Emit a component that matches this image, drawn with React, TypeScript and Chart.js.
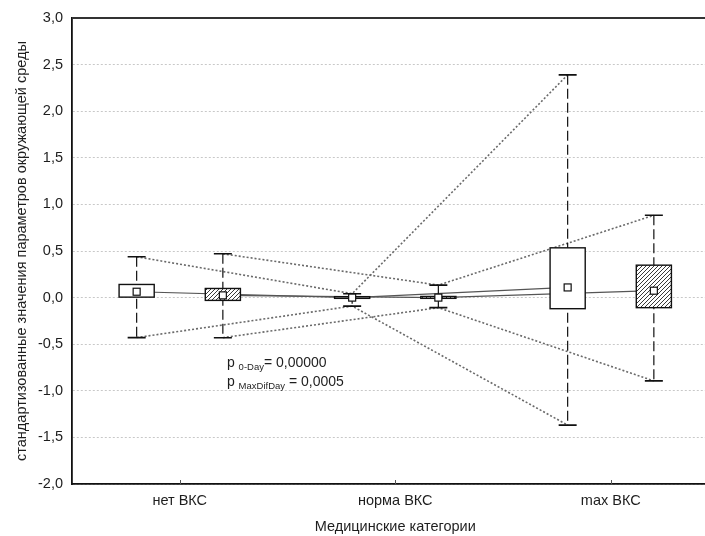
import React, { useEffect, useRef } from "react";
import { Chart, registerables } from "chart.js";

Chart.register(...registerables);

// ---- data ----
const categories = ["нет ВКС", "норма ВКС", "max ВКС"];
const yMin = -2;
const yMax = 3;
const yStep = 0.5;

// Series A (white boxes)
const aMin = [-0.429, -0.091, -1.368];
const aQ1 = [0.005, -0.008, -0.119];
const aQ3 = [0.141, 0.01, 0.534];
const aMax = [0.438, 0.042, 2.39];
const aMean = [0.063, 0.0, 0.109];

// Series B (hatched boxes)
const bMin = [-0.43, -0.108, -0.894];
const bQ1 = [-0.03, -0.008, -0.108];
const bQ3 = [0.098, 0.012, 0.348];
const bMax = [0.47, 0.134, 0.883];
const bMean = [0.024, 0.0, 0.074];

const yTitle = "стандартизованные значения параметров окружающей среды";
const xTitle = "Медицинские категории";
const annotation = [
  { p: "p", sub: "0-Day", rest: "= 0,00000" },
  { p: "p", sub: "MaxDifDay", rest: " = 0,0005" },
];
const annotationAnchor = { x: 0.219, y: -0.69 };

// ---- layout constants ----
const OFFSETS = [-0.2, 0.2];
const BOX_W = 0.163;
const FONT = "'Liberation Sans', Arial, sans-serif";
const TEXT = "#1e1e1e";

function makeHatch(): CanvasPattern | string {
  const n = 4;
  const c = document.createElement("canvas");
  c.width = n;
  c.height = n;
  const g = c.getContext("2d");
  if (!g) return "#fff";
  g.fillStyle = "#fff";
  g.fillRect(0, 0, n, n);
  g.strokeStyle = "#3a3a3a";
  g.lineWidth = 1;
  g.beginPath();
  g.moveTo(-1, n + 1);
  g.lineTo(n + 1, -1);
  g.moveTo(-1, 1);
  g.lineTo(1, -1);
  g.moveTo(n - 1, n + 1);
  g.lineTo(n + 1, n - 1);
  g.stroke();
  const p = g.createPattern(c, "repeat");
  return p || "#fff";
}

export default function App() {
  const ref = useRef<HTMLCanvasElement | null>(null);

  useEffect(() => {
    const canvas = ref.current;
    if (!canvas) return;
    const hatch = makeHatch();

    const series = [
      { min: aMin, q1: aQ1, q3: aQ3, max: aMax, mean: aMean, fill: "#fff" as any },
      { min: bMin, q1: bQ1, q3: bQ3, max: bMax, mean: bMean, fill: hatch as any },
    ];

    const lineDs = (vals: number[], off: number, dotted: boolean) => ({
      type: "line" as const,
      data: categories.map((_, i) => ({ x: i + off, y: vals[i] })),
      borderColor: dotted ? "#6a6a6a" : "#555",
      borderWidth: dotted ? 1.6 : 1.2,
      borderDash: dotted ? [2, 2] : [],
      pointRadius: 0,
      showLine: true,
      fill: false,
      tension: 0,
    });

    const datasets = [
      lineDs(aMax, OFFSETS[0], true),
      lineDs(aMin, OFFSETS[0], true),
      lineDs(bMax, OFFSETS[1], true),
      lineDs(bMin, OFFSETS[1], true),
      lineDs(aMean, OFFSETS[0], false),
      lineDs(bMean, OFFSETS[1], false),
    ];

    const boxPlugin = {
      id: "boxes",
      afterDatasetsDraw(chart: any) {
        const ctx: CanvasRenderingContext2D = chart.ctx;
        const xs = chart.scales.x;
        const ys = chart.scales.y;
        const area = chart.chartArea;
        ctx.save();
        series.forEach((s, si) => {
          categories.forEach((_, i) => {
            const xv = i + OFFSETS[si];
            const cx = xs.getPixelForValue(xv);
            const hw = (xs.getPixelForValue(xv + BOX_W / 2) - xs.getPixelForValue(xv - BOX_W / 2)) / 2;
            const yMaxP = ys.getPixelForValue(s.max[i]);
            const yMinP = ys.getPixelForValue(s.min[i]);
            const yQ1 = ys.getPixelForValue(s.q1[i]);
            const yQ3 = ys.getPixelForValue(s.q3[i]);
            const yMean = ys.getPixelForValue(s.mean[i]);
            // whisker
            ctx.strokeStyle = "#111";
            ctx.lineWidth = 1.2;
            ctx.setLineDash([10, 4]);
            ctx.beginPath();
            ctx.moveTo(cx, yMaxP);
            ctx.lineTo(cx, yMinP);
            ctx.stroke();
            ctx.setLineDash([]);
            // caps
            ctx.lineWidth = 1.6;
            ctx.beginPath();
            ctx.moveTo(cx - 9, yMaxP);
            ctx.lineTo(cx + 9, yMaxP);
            ctx.moveTo(cx - 9, yMinP);
            ctx.lineTo(cx + 9, yMinP);
            ctx.stroke();
            // box
            ctx.fillStyle = s.fill;
            ctx.fillRect(cx - hw, yQ3, hw * 2, yQ1 - yQ3);
            ctx.lineWidth = 1.4;
            ctx.strokeStyle = "#111";
            ctx.strokeRect(cx - hw, yQ3, hw * 2, yQ1 - yQ3);
            // mean marker
            ctx.fillStyle = "#fff";
            ctx.fillRect(cx - 3.5, yMean - 3.5, 7, 7);
            ctx.lineWidth = 1.2;
            ctx.strokeRect(cx - 3.5, yMean - 3.5, 7, 7);
          });
        });
        // top border
        ctx.strokeStyle = "#333";
        ctx.lineWidth = 1.8;
        ctx.beginPath();
        ctx.moveTo(area.left, area.top);
        ctx.lineTo(area.right, area.top);
        ctx.stroke();
        // x tick marks (inside)
        ctx.strokeStyle = "#555";
        ctx.lineWidth = 1;
        categories.forEach((_, i) => {
          const x = Math.round(xs.getPixelForValue(i)) + 0.5;
          ctx.beginPath();
          ctx.moveTo(x, area.bottom);
          ctx.lineTo(x, area.bottom - 4);
          ctx.stroke();
        });
        // annotation
        const ax = xs.getPixelForValue(annotationAnchor.x);
        let ay = ys.getPixelForValue(annotationAnchor.y);
        ctx.fillStyle = TEXT;
        ctx.textBaseline = "alphabetic";
        ctx.textAlign = "left";
        annotation.forEach((a) => {
          let x = ax;
          ctx.font = `14px ${FONT}`;
          ctx.fillText(a.p, x, ay + 5);
          x += ctx.measureText(a.p + " ").width;
          ctx.font = `9.5px ${FONT}`;
          ctx.fillText(a.sub, x, ay + 8);
          x += ctx.measureText(a.sub).width;
          ctx.font = `14px ${FONT}`;
          ctx.fillText(a.rest, x, ay + 5);
          ay += 19;
        });
        ctx.restore();
      },
    };

    const yTickVals: number[] = [];
    for (let v = yMin; v <= yMax + 1e-9; v += yStep) yTickVals.push(Math.round(v * 10) / 10);

    const chart = new Chart(canvas, {
      type: "scatter",
      data: { datasets: datasets as any },
      options: {
        animation: false,
        responsive: false,
        devicePixelRatio: 1,
        layout: { padding: { top: 18, right: 1.5, left: 0, bottom: 0 } },
        plugins: { legend: { display: false }, tooltip: { enabled: false } },
        scales: {
          x: {
            type: "linear",
            min: -0.5,
            max: 2.5,
            afterFit: (s: any) => {
              s.height = 52;
            },
            afterBuildTicks: (s: any) => {
              s.ticks = categories.map((_, i) => ({ value: i }));
            },
            ticks: {
              callback: (v: any) => categories[Math.round(Number(v))] ?? "",
              font: { family: FONT, size: 14.5 },
              color: TEXT,
              padding: 8,
              maxRotation: 0,
              autoSkip: false,
            },
            grid: { display: false, drawTicks: false },
            border: { display: true, color: "#111", width: 1.8 },
            title: {
              display: true,
              text: xTitle,
              font: { family: FONT, size: 14.5 },
              color: TEXT,
              padding: { top: 0, bottom: 0 },
            },
          },
          y: {
            type: "linear",
            min: yMin,
            max: yMax,
            afterFit: (s: any) => {
              s.width = 72;
            },
            afterBuildTicks: (s: any) => {
              s.ticks = yTickVals.map((v) => ({ value: v }));
            },
            ticks: {
              callback: (v: any) => Number(v).toFixed(1).replace(".", ","),
              font: { family: FONT, size: 14.5 },
              color: TEXT,
              padding: 9,
            },
            grid: { color: "#c8c8c8", lineWidth: 1, drawTicks: false },
            border: { display: true, color: "#111", width: 1.8, dash: [2, 2] },
            title: {
              display: true,
              text: yTitle,
              font: { family: FONT, size: 14.5 },
              color: TEXT,
              padding: { top: 13, bottom: 0 },
            },
          },
        },
      },
      plugins: [boxPlugin],
    });

    return () => chart.destroy();
  }, []);

  return (
    <div
      style={{
        position: "absolute",
        left: 0,
        top: 0,
        width: 705,
        height: 536,
        overflow: "hidden",
        background: "#fff",
      }}
    >
      <canvas ref={ref} width={720} height={536} style={{ width: 720, height: 536, display: "block" }} />
    </div>
  );
}
